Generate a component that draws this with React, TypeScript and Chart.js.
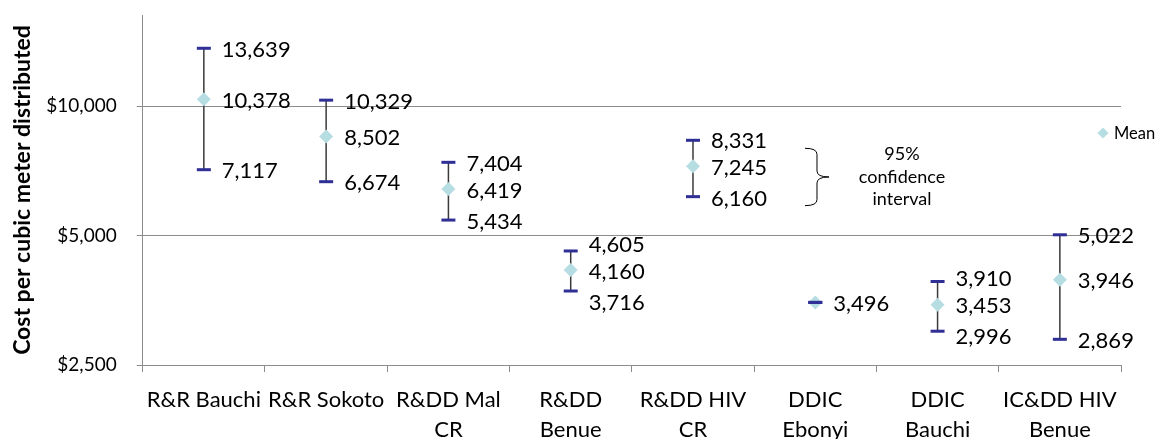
import { useEffect, useRef } from "react";
import { Chart, registerables } from "chart.js";

Chart.register(...registerables);

const categories: (string | string[])[] = [
  "R&R Bauchi",
  "R&R Sokoto",
  ["R&DD Mal", "CR"],
  ["R&DD", "Benue"],
  ["R&DD HIV", "CR"],
  ["DDIC", "Ebonyi"],
  ["DDIC", "Bauchi"],
  ["IC&DD HIV", "Benue"],
];
const means = [10378, 8502, 6419, 4160, 7245, 3496, 3453, 3946];
const upperBounds = [13639, 10329, 7404, 4605, 8331, 3496, 3910, 5022];
const lowerBounds = [7117, 6674, 5434, 3716, 6160, 3496, 2996, 2869];
const yTickValues = [2500, 5000, 10000];
const yMin = 2500;
const yMax = 16300;
const annotatedIndex = 4;
const annotationLines = ["95%", "confidence", "interval"];

const FONT = "Lato, 'Open Sans', sans-serif";
const MEAN_COLOR = "#b6dde2";
const CAP_COLOR = "#2f2f96";
const GRID_COLOR = "#8c8c8c";

const fmt = (v: number) => v.toLocaleString("en-US");

const errorBarPlugin = {
  id: "errorBars",
  beforeDatasetsDraw(chart: any) {
    const { ctx, scales } = chart;
    const x = scales.x;
    const y = scales.y;
    ctx.save();
    ctx.strokeStyle = "#3a3a3a";
    ctx.lineWidth = 1.5;
    means.forEach((_, i) => {
      const cx = x.getPixelForValue(i);
      ctx.beginPath();
      ctx.moveTo(cx, y.getPixelForValue(upperBounds[i]));
      ctx.lineTo(cx, y.getPixelForValue(lowerBounds[i]));
      ctx.stroke();
    });
    ctx.restore();
  },
  afterDatasetsDraw(chart: any) {
    const { ctx, scales } = chart;
    const x = scales.x;
    const y = scales.y;
    ctx.save();
    ctx.fillStyle = CAP_COLOR;
    means.forEach((m, i) => {
      const cx = x.getPixelForValue(i);
      [upperBounds[i], lowerBounds[i]].forEach((v) => {
        const py = y.getPixelForValue(v);
        ctx.fillRect(cx - 7, py - 1.5, 14, 3);
      });
    });
    ctx.fillStyle = "#000";
    ctx.font = `22px ${FONT}`;
    ctx.textAlign = "left";
    ctx.textBaseline = "middle";
    means.forEach((m, i) => {
      const cx = x.getPixelForValue(i);
      const lx = cx + 18;
      const yM = y.getPixelForValue(m);
      ctx.fillText(fmt(m), lx, yM + 1.5);
      if (upperBounds[i] !== m) {
        const yU = Math.min(y.getPixelForValue(upperBounds[i]), yM - 27);
        ctx.fillText(fmt(upperBounds[i]), lx, yU + 1.5);
      }
      if (lowerBounds[i] !== m) {
        const yL = Math.max(y.getPixelForValue(lowerBounds[i]), yM + 31);
        ctx.fillText(fmt(lowerBounds[i]), lx, yL + 1.5);
      }
    });
    ctx.restore();
  },
  afterDraw(chart: any) {
    const { ctx, scales, chartArea } = chart;
    const x = scales.x;
    const y = scales.y;
    ctx.save();
    const cx = x.getPixelForValue(annotatedIndex);
    const top = y.getPixelForValue(upperBounds[annotatedIndex]) + 8;
    const bot = y.getPixelForValue(lowerBounds[annotatedIndex]) + 9;
    const mid = (top + bot) / 2;
    const bx = cx + 112;
    const vx = bx + 12;
    const px = bx + 24;
    ctx.strokeStyle = "#000";
    ctx.lineWidth = 1;
    ctx.beginPath();
    ctx.moveTo(bx, top);
    ctx.quadraticCurveTo(vx, top, vx, top + 6);
    ctx.lineTo(vx, mid - 6);
    ctx.quadraticCurveTo(vx, mid, px, mid);
    ctx.quadraticCurveTo(vx, mid, vx, mid + 6);
    ctx.lineTo(vx, bot - 6);
    ctx.quadraticCurveTo(vx, bot, bx, bot);
    ctx.stroke();
    ctx.fillStyle = "#000";
    ctx.font = `18px ${FONT}`;
    ctx.textAlign = "center";
    ctx.textBaseline = "middle";
    const tx = cx + 209;
    annotationLines.forEach((t, k) => {
      ctx.fillText(t, tx, mid + (k - 1) * 22.5);
    });
    const lgX = chartArea.right - 18;
    const lgY = chartArea.top + 118;
    ctx.fillStyle = MEAN_COLOR;
    ctx.beginPath();
    ctx.moveTo(lgX - 5.5, lgY);
    ctx.lineTo(lgX, lgY - 5.5);
    ctx.lineTo(lgX + 5.5, lgY);
    ctx.lineTo(lgX, lgY + 5.5);
    ctx.closePath();
    ctx.fill();
    ctx.fillStyle = "#000";
    ctx.font = `16.5px ${FONT}`;
    ctx.textAlign = "left";
    ctx.fillText(chart.data.datasets[0].label, lgX + 11, lgY + 1);
    ctx.restore();
  },
};

export default function App() {
  const canvasRef = useRef<HTMLCanvasElement | null>(null);

  useEffect(() => {
    document.body.style.margin = "0";
    const canvas = canvasRef.current;
    if (!canvas) return;
    const chart = new Chart(canvas, {
      type: "line",
      data: {
        labels: categories as any,
        datasets: [
          {
            label: "Mean",
            data: means,
            showLine: false,
            pointStyle: "rectRot",
            pointRadius: 7,
            pointHoverRadius: 7,
            pointBackgroundColor: MEAN_COLOR,
            pointBorderColor: MEAN_COLOR,
            pointBorderWidth: 0,
          },
        ],
      },
      options: {
        animation: false,
        responsive: false,
        devicePixelRatio: 1,
        events: [],
        layout: { autoPadding: false, padding: { left: 0, right: 38, top: 15, bottom: 0 } },
        plugins: {
          legend: { display: false },
          tooltip: { enabled: false },
        },
        scales: {
          x: {
            type: "category",
            offset: true,
            grid: {
              offset: true,
              drawOnChartArea: false,
              drawTicks: true,
              tickLength: 7,
              color: GRID_COLOR,
            },
            border: { display: true, color: GRID_COLOR },
            ticks: {
              color: "#000",
              font: { family: FONT, size: 22, lineHeight: 1.34 },
              padding: 13.5,
              maxRotation: 0,
              autoSkip: false,
            },
            afterFit: (s: any) => {
              s.height = 74;
              s.paddingLeft = 0;
              s.paddingRight = 0;
            },
          },
          y: {
            type: "logarithmic",
            min: yMin,
            max: yMax,
            afterBuildTicks: (s: any) => {
              s.ticks = yTickValues.map((v) => ({ value: v }));
            },
            grid: { color: GRID_COLOR, tickLength: 6, drawTicks: true },
            border: { display: true, color: GRID_COLOR },
            ticks: {
              color: "#000",
              font: { family: FONT, size: 19 },
              padding: 20,
              callback: (v: any) => "$" + fmt(Number(v)),
            },
            title: {
              display: true,
              text: "Cost per cubic meter distributed",
              color: "#000",
              font: { family: FONT, size: 23, weight: "bold" },
              padding: { top: 9, bottom: 0 },
            },
            afterFit: (s: any) => {
              s.width = 142.7;
              s.paddingTop = 0;
              s.paddingBottom = 0;
            },
          },
        },
      } as any,
      plugins: [errorBarPlugin],
    });
    return () => chart.destroy();
  }, []);

  return (
    <div style={{ position: "absolute", left: 0, top: 0, width: 1159, height: 439 }}>
      <canvas ref={canvasRef} width={1159} height={439} style={{ width: 1159, height: 439 }} />
    </div>
  );
}
